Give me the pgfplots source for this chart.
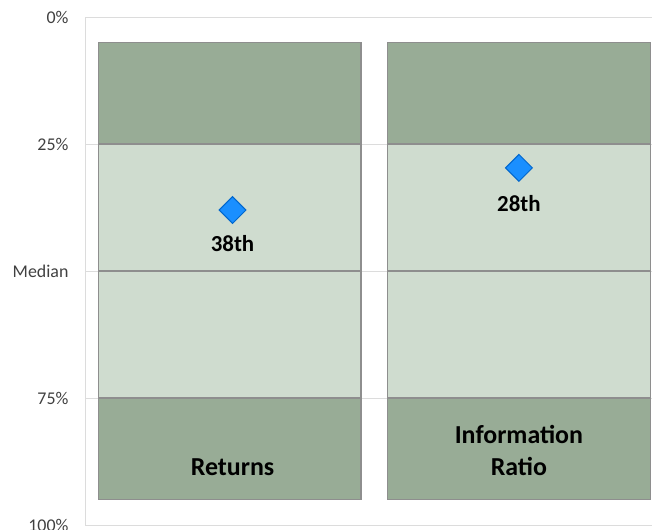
\documentclass[border=0pt]{standalone}
\usepackage{pgfplots}
\pgfplotsset{compat=1.18}
\usepackage{fontspec}
\setmainfont{Carlito}
\definecolor{dkg}{HTML}{98AC96}
\definecolor{ltg}{HTML}{CFDCCF}
\definecolor{bord}{HTML}{8E8E8E}
\definecolor{gridc}{HTML}{DCDCDC}
\definecolor{tickc}{HTML}{404040}
\definecolor{mk}{HTML}{1A8FFF}
\definecolor{mkb}{HTML}{0066CC}
\begin{document}
\begin{tikzpicture}
\path[use as bounding box] (0,0) rectangle (652bp,530bp);
\pgfplotsset{base/.style={at={(85bp,5bp)}, anchor=south west, scale only axis,
  width=567bp, height=508bp, xmin=-0.5, xmax=1.46, ymin=0, ymax=100,
  y dir=reverse, axis line style={draw=none}, xtick=\empty, clip=false}}
\begin{axis}[base, ybar stacked, bar width=0.908,
  ytick={0,25,50,75,100}, yticklabels={0\%,25\%,Median,75\%,100\%},
  ymajorgrids, grid style={gridc, line width=0.9bp}, major tick length=0,
  yticklabel style={font=\fontsize{18}{21}\selectfont, text=tickc, xshift=-13bp}]
\draw[gridc, line width=0.9bp] (rel axis cs:0,0) -- (rel axis cs:0,1);
\addplot[draw=none, fill=none] coordinates {(0,5) (1,5)};
\addplot[fill=dkg, draw=bord, line width=1.2bp] coordinates {(0,20) (1,20)};
\addplot[fill=ltg, draw=bord, line width=1.2bp] coordinates {(0,25) (1,25)};
\addplot[fill=ltg, draw=bord, line width=1.2bp] coordinates {(0,25) (1,25)};
\addplot[fill=dkg, draw=bord, line width=1.2bp] coordinates {(0,20) (1,20)};
\end{axis}
\begin{axis}[base, ytick=\empty]
\addplot[only marks, mark=square*, mark size=9.5bp,
  mark options={rotate=45, fill=mk, draw=mkb, line width=1bp}]
  coordinates {(0.01,38) (1,29.7)};
\node[font=\bfseries\fontsize{23}{26}\selectfont] at (axis cs:0.01,38) [yshift=-34bp] {38th};
\node[font=\bfseries\fontsize{23}{26}\selectfont] at (axis cs:1,29.7) [yshift=-36bp] {28th};
\node[font=\bfseries\fontsize{26}{32}\selectfont] at (axis cs:0.01,88.6) {Returns};
\node[font=\bfseries\fontsize{26}{32}\selectfont, align=center] at (axis cs:1,85.4) {Information\\Ratio};
\end{axis}
\end{tikzpicture}
\end{document}
